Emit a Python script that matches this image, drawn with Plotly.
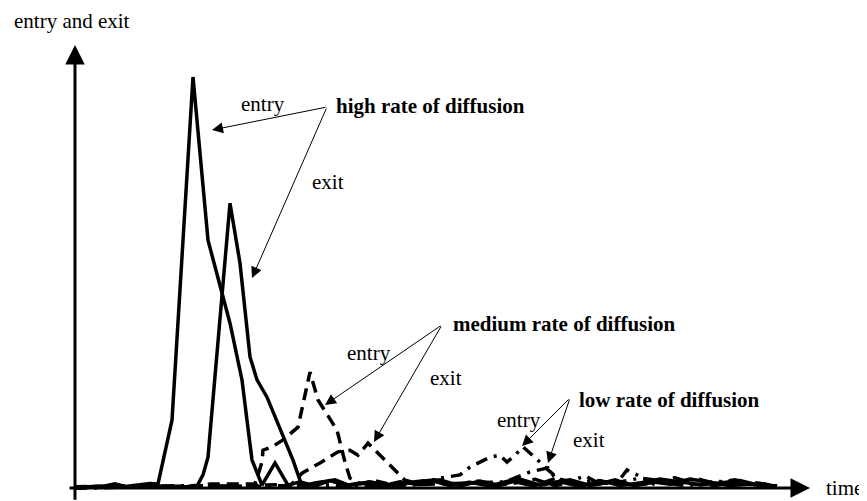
import plotly.graph_objects as go

# time in arbitrary units, values scaled so the highest peak is 100
high_entry_t = [0, 3, 6, 8, 10, 13, 15, 16.6, 19.4, 23.6, 26.6, 31, 33.4, 34.4, 35.4, 37.4, 40, 42.6,
                45, 48, 51, 54, 57, 61, 65, 69, 73, 77, 81, 85, 89, 93, 97, 101, 105, 109, 113, 117, 121, 125, 129, 133, 137, 140.4]
high_entry_v = [0.2, 0.3, 0.5, 1.0, 0.4, 0.8, 1.1, 1.0, 16.5, 100, 60.3, 40.1, 26.3, 16.5, 6.8, 0.7, 6.1, 0.7,
                1.5, 0.5, 1.8, 0.6, 1.2, 0.4, 1.5, 0.8, 2.0, 0.5, 1.7, 0.6, 2.2, 0.7, 1.5, 0.4, 1.8, 0.6, 1.2, 2.2, 1.5, 0.8, 1.2, 1.8, 0.6, 0.5]

high_exit_t = [0, 5, 11, 17, 22, 24.4, 25.6, 26.6, 31, 33, 35, 36.4, 38.4, 43.6, 45.4,
               48, 52, 55, 59, 63, 67, 71, 75, 79, 83, 87, 91, 95, 99, 103, 107, 111, 115, 119, 123, 127, 131, 135, 140.4]
high_exit_v = [0, 0.3, 0.2, 0.5, 0.3, 0.5, 3.2, 7.5, 69.3, 54.7, 31.9, 26.3, 22.1, 6.8, 0.5,
               1.2, 2.0, 0.6, 1.5, 0.5, 1.2, 1.9, 0.6, 1.4, 0.5, 1.8, 0.7, 1.2, 2.0, 0.6, 1.5, 0.8, 1.6, 0.9, 2.2, 1.5, 0.6, 1.0, 0.5]

med_entry_t = [0, 9, 17, 25, 27, 36, 37.4, 37.6, 39.4, 41.6, 44.6, 47, 48.6, 51, 52.4, 54, 55, 57,
               60, 64, 68, 72, 76, 80, 84, 88, 92, 96, 100, 104, 108, 112, 116, 120, 124, 128, 132, 136, 140.4]
med_entry_v = [0.3, 0.5, 0.3, 0.5, 1.0, 1.0, 6.3, 9.2, 10.0, 11.7, 14.8, 28.2, 21.4, 17.0, 14.1, 6.3, 2.4, 1.0,
               1.8, 0.6, 1.5, 2.0, 0.8, 1.3, 0.5, 1.7, 0.6, 2.3, 1.0, 0.7, 1.9, 0.6, 1.4, 2.5, 1.0, 0.6, 1.6, 0.8, 0.5]

med_exit_t = [0, 10, 20, 30, 40, 43, 45.4, 49, 52.6, 55, 56.6, 58.6, 60, 61.4, 64, 66, 69,
              72, 76, 80, 84, 88, 92, 96, 100, 104, 108, 112, 116, 120, 124, 128, 132, 136, 140.4]
med_exit_v = [0, 0.4, 0.2, 0.6, 0.8, 0.5, 3.6, 6.1, 8.8, 9.2, 8.0, 10.9, 9.2, 7.3, 4.4, 1.9, 1.0,
              1.6, 0.5, 1.8, 0.7, 1.2, 2.1, 0.6, 1.4, 0.8, 2.0, 0.5, 1.5, 0.9, 2.4, 1.1, 0.7, 1.3, 0.5]

low_entry_t = [0, 12, 24, 36, 48, 60, 69, 73, 77, 79, 83, 85, 86.4, 88, 89.6, 93, 94.6, 97,
               100, 104, 108, 110.4, 112.4, 116, 120, 124, 128, 132, 136, 140.4]
low_entry_v = [0, 0.4, 0.6, 0.3, 0.8, 0.5, 1.0, 2.4, 3.2, 5.1, 7.5, 8.0, 6.3, 8.0, 10.0, 6.3, 4.4, 1.9,
               1.0, 2.0, 0.6, 4.4, 3.2, 0.8, 1.6, 0.6, 1.3, 2.0, 0.7, 0.5]

low_exit_t = [0, 12, 24, 36, 48, 60, 72, 80, 86, 91, 94, 94.6, 96, 99, 102, 105, 109, 113, 117,
              121, 125, 129, 133, 137, 140.4]
low_exit_v = [0, 0.3, 0.5, 0.4, 0.7, 0.5, 0.9, 1.2, 1.5, 3.9, 4.9, 4.9, 2.5, 1.5, 3.0, 1.0, 1.5, 2.4, 1.8,
              0.7, 1.2, 1.6, 0.9, 1.1, 0.5]

FONT = "Liberation Serif"

fig = go.Figure()

series = [
    (high_entry_t, high_entry_v, "solid"),
    (high_exit_t, high_exit_v, "solid"),
    (med_entry_t, med_entry_v, "12px,7px"),
    (med_exit_t, med_exit_v, "12px,7px"),
    (low_entry_t, low_entry_v, "12px,7px,3px,7px"),
    (low_exit_t, low_exit_v, "12px,7px,3px,7px"),
]
for t, v, dash in series:
    fig.add_trace(go.Scatter(x=t, y=v, mode="lines", showlegend=False, hoverinfo="skip",
                             line=dict(color="black", width=3.5, dash=dash)))

# axes drawn as arrows
axis_arrows = [
    dict(x=0, y=107.8, ax=0, ay=-3.2),      # vertical
    dict(x=147, y=0, ax=-1.4, ay=0),        # horizontal
]
for a in axis_arrows:
    fig.add_annotation(x=a["x"], y=a["y"], ax=a["ax"], ay=a["ay"], xref="x", yref="y", axref="x", ayref="y",
                       text="", showarrow=True, arrowhead=2, arrowsize=1.3, arrowwidth=3, arrowcolor="black")

# thin pointer arrows from the labels
pointers = [
    (50.4, 92.7, 27.4, 87.1),
    (50.4, 92.7, 35.4, 51.1),
    (73.4, 39.7, 50.0, 20.2),
    (73.4, 39.7, 59.8, 11.2),
    (99.0, 21.9, 89.4, 10.2),
    (99.0, 21.9, 94.6, 6.1),
]
for x0, y0, x1, y1 in pointers:
    fig.add_annotation(x=x1, y=y1, ax=x0, ay=y0, xref="x", yref="y", axref="x", ayref="y",
                       text="", showarrow=True, arrowhead=2, arrowsize=2.2, arrowwidth=1, arrowcolor="black")

labels = [
    ("entry and exit", -12.4, 113.6, "left", False),
    ("time", 150, 0.0, "left", False),
    ("entry", 37.6, 93.4, "center", False),
    ("exit", 50.6, 74.5, "center", False),
    ("high rate of diffusion", 52.0, 92.9, "left", True),
    ("entry", 58.8, 32.8, "center", False),
    ("exit", 74.2, 26.8, "center", False),
    ("medium rate of diffusion", 75.4, 39.9, "left", True),
    ("entry", 88.8, 16.5, "center", False),
    ("exit", 102.8, 11.7, "center", False),
    ("low rate of diffusion", 100.6, 21.4, "left", True),
]
for txt, x, y, anchor, bold in labels:
    fig.add_annotation(x=x, y=y, xref="x", yref="y", text="<b>%s</b>" % txt if bold else txt,
                       showarrow=False, xanchor=anchor, yanchor="middle", borderpad=0,
                       font=dict(family=FONT, size=21, color="black"))

# the page puts the figure 8px in from the top-left corner
fig.update_layout(
    width=859, height=493,
    margin=dict(l=0, r=0, t=0, b=0),
    paper_bgcolor="white", plot_bgcolor="white",
    xaxis=dict(range=[-13.4, 158.4], visible=False, fixedrange=True),
    yaxis=dict(range=[-3.16, 116.79], visible=False, fixedrange=True),
)

fig.write_html("out.html")
